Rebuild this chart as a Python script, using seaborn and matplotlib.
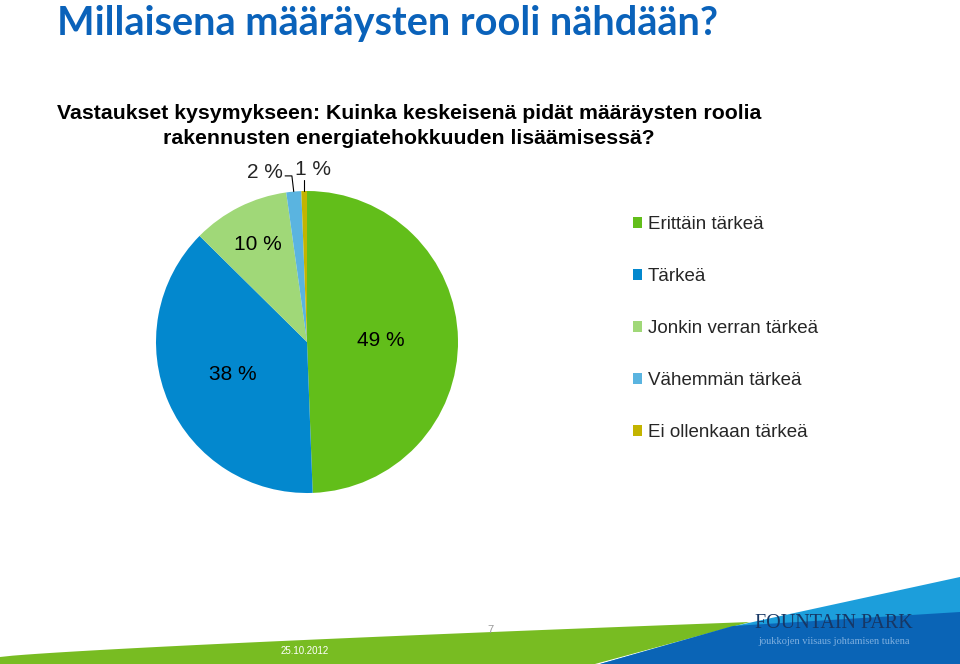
import numpy as np
import seaborn as sns
import matplotlib.pyplot as plt
from matplotlib.patches import Polygon

sns.set_theme(style="white")
plt.rcParams['font.family'] = ['Liberation Sans', 'DejaVu Sans']

categories = ['Erittäin tärkeä', 'Tärkeä', 'Jonkin verran tärkeä', 'Vähemmän tärkeä', 'Ei ollenkaan tärkeä']
values = [49.4, 38.0, 10.4, 1.6, 0.6]
colors = ['#62BE1A', '#0388CE', '#A0D878', '#5AB4E0', '#C3B400']
title = 'Millaisena määräysten rooli nähdään?'
question = 'Vastaukset kysymykseen: Kuinka keskeisenä pidät määräysten roolia\nrakennusten energiatehokkuuden lisäämisessä?'

fig = plt.figure(figsize=(9.6, 6.64), dpi=100)

# slide background in pixel coordinates
bg = fig.add_axes([0, 0, 1, 1], zorder=0)
bg.set_xlim(0, 960)
bg.set_ylim(664, 0)
bg.axis('off')

xs = np.linspace(0, 750, 60)
top = 657 - 35 * (xs / 750) ** 0.8
green = np.vstack([np.column_stack([xs, top]), [[595, 664], [0, 664]]])
bg.add_patch(Polygon(green, closed=True, color='#78BC22', lw=0))
bg.add_patch(Polygon([[600, 664], [730, 627], [960, 577], [960, 664]], closed=True, color='#1C9EDB', lw=0))
bg.add_patch(Polygon([[600, 664], [733, 626], [960, 612], [960, 664]], closed=True, color='#0A64B6', lw=0))

bg.text(57, 23, title, fontsize=28.5, fontweight='bold', color='#0A62BA', family=['Lato', 'DejaVu Sans'],
        ha='left', va='center')
bg.text(409, 126, question, fontsize=15.3, fontweight='bold', color='black', ha='center', va='center',
        linespacing=1.35)
bg.text(305, 651, '25.10.2012', fontsize=7, color='white', ha='center', va='center')
bg.text(490, 630, '7', fontsize=8, color='#999999', ha='center', va='center')
bg.text(834, 624, 'FOUNTAIN PARK', fontsize=14.5, color='#173765', family=['Liberation Serif'],
        ha='center', va='center')
bg.text(834, 642, 'joukkojen viisaus johtamisen tukena', fontsize=7.5, color='#7FB0E0',
        family=['Liberation Serif'], ha='center', va='center')

# pie
cx, cy, r = 307, 342, 151
ax = fig.add_axes([(cx - r) / 960, (664 - cy - r) / 664, 2 * r / 960, 2 * r / 664], zorder=1)
wedges, _ = ax.pie(values, colors=colors, startangle=90, counterclock=False,
                   wedgeprops=dict(linewidth=0))
ax.set_xlim(-1, 1)
ax.set_ylim(-1, 1)

cum = np.cumsum(values) - np.array(values) / 2
mid = np.deg2rad(90 - 360 * cum / sum(values))
label_r = [0.49, 0.54, 0.72]
for i in range(3):
    ax.text(label_r[i] * np.cos(mid[i]), label_r[i] * np.sin(mid[i]), f'{round(values[i])} %',
            fontsize=15, ha='center', va='center', color='black')

# small slices with leader lines
ax.text(-0.28, 1.12, f'{round(values[3])} %', fontsize=15, ha='center', va='center', clip_on=False)
ax.text(0.04, 1.145, f'{round(values[4])} %', fontsize=15, ha='center', va='center', clip_on=False)
ex, ey = np.cos(mid[3]), np.sin(mid[3])
ax.plot([-0.145, -0.10, ex], [1.10, 1.10, ey], color='black', lw=0.8, clip_on=False)
ex, ey = np.cos(mid[4]), np.sin(mid[4])
ax.plot([ex, ex], [1.07, ey], color='black', lw=0.8, clip_on=False)

fig.legend(wedges, categories, loc='upper left', bbox_to_anchor=(633 / 960, 1 - 216 / 664),
           frameon=False, fontsize=13.5, handlelength=0.5, handleheight=0.5, handletextpad=0.28,
           labelspacing=1.87, borderaxespad=0, borderpad=0)

fig.savefig('out.png', dpi=100)
